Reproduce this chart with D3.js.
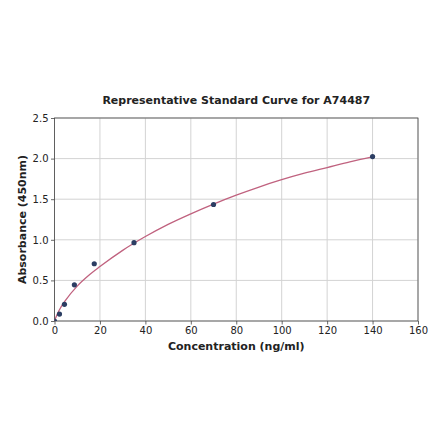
<!DOCTYPE html>
<html>
<head>
<meta charset="utf-8">
<script src="https://cdn.jsdelivr.net/npm/d3@7"></script>
<style>
  body { margin: 0; background: #fff; }
  text { font-family: "DejaVu Sans", sans-serif; fill: #222; }
</style>
</head>
<body>
<div id="chart"></div>
<script>
// standard points
var concentration = [0, 2.19, 4.38, 8.75, 17.5, 35, 70, 140];
var absorbance = [0.0, 0.085, 0.205, 0.445, 0.705, 0.965, 1.435, 2.025];

// fitted curve
var curveX = [0, 1, 2, 5, 10, 15, 20, 30, 40, 50, 60, 70, 80, 90, 100, 110, 120, 130, 140];
var curveY = [0, 0.07, 0.13, 0.26, 0.43, 0.56, 0.67, 0.87, 1.04, 1.19, 1.32, 1.44, 1.55, 1.65, 1.74, 1.82, 1.89, 1.96, 2.02];

var xTicks = [0, 20, 40, 60, 80, 100, 120, 140, 160];
var yTicks = [0, 0.5, 1.0, 1.5, 2.0, 2.5];

var width = 440, height = 441;
var margin = { top: 118, right: 22, bottom: 120, left: 54.5 };
var innerW = width - margin.left - margin.right;
var innerH = height - margin.top - margin.bottom;

var svg = d3.select('#chart').append('svg')
  .attr('width', width).attr('height', height);

var x = d3.scaleLinear().domain([0, 160]).range([0, innerW]);
var y = d3.scaleLinear().domain([0, 2.5]).range([innerH, 0]);

var g = svg.append('g').attr('transform', 'translate(' + margin.left + ',' + margin.top + ')');

g.append('clipPath').attr('id', 'clip')
  .append('rect').attr('width', innerW).attr('height', innerH);

// grid
g.append('g').selectAll('line').data(xTicks).enter().append('line')
  .attr('x1', function (d) { return x(d); }).attr('x2', function (d) { return x(d); })
  .attr('y1', 0).attr('y2', innerH)
  .attr('stroke', '#d3d3d3').attr('stroke-width', 1);
g.append('g').selectAll('line').data(yTicks).enter().append('line')
  .attr('y1', function (d) { return y(d); }).attr('y2', function (d) { return y(d); })
  .attr('x1', 0).attr('x2', innerW)
  .attr('stroke', '#d3d3d3').attr('stroke-width', 1);

// axes
var xAxis = g.append('g').attr('transform', 'translate(0,' + innerH + ')')
  .call(d3.axisBottom(x).tickValues(xTicks).tickSize(3.5).tickPadding(2.5).tickFormat(d3.format('d')));
var yAxis = g.append('g')
  .call(d3.axisLeft(y).tickValues(yTicks).tickSize(3.5).tickPadding(2.5).tickFormat(d3.format('.1f')));
[xAxis, yAxis].forEach(function (a) {
  a.select('.domain').remove();
  a.selectAll('line').attr('stroke', '#444').attr('stroke-width', 0.8);
  a.selectAll('text').style('font-size', '10px').style('font-family', '"DejaVu Sans", sans-serif').attr('fill', '#222');
});

// frame
g.append('rect').attr('width', innerW).attr('height', innerH)
  .attr('fill', 'none').attr('stroke', '#444').attr('stroke-width', 0.8);

// fitted curve
var line = d3.line()
  .x(function (d) { return x(d[0]); })
  .y(function (d) { return y(d[1]); })
  .curve(d3.curveMonotoneX);
g.append('path').datum(d3.zip(curveX, curveY))
  .attr('d', line).attr('fill', 'none')
  .attr('stroke', '#c0627f').attr('stroke-width', 1.3)
  .attr('clip-path', 'url(#clip)');

// points
g.append('g').attr('clip-path', 'url(#clip)')
  .selectAll('circle').data(d3.zip(concentration, absorbance)).enter().append('circle')
  .attr('cx', function (d) { return x(d[0]); })
  .attr('cy', function (d) { return y(d[1]); })
  .attr('r', 2.6).attr('fill', '#2c3e63');

// labels
svg.append('text').attr('x', margin.left + innerW / 2).attr('y', 104)
  .attr('text-anchor', 'middle').style('font-size', '11px').style('font-weight', 'bold')
  .text('Representative Standard Curve for A74487');
svg.append('text').attr('x', margin.left + innerW / 2).attr('y', 350)
  .attr('text-anchor', 'middle').style('font-size', '11px').style('font-weight', 'bold')
  .text('Concentration (ng/ml)');
svg.append('text').attr('transform', 'translate(26,' + (margin.top + innerH / 2) + ') rotate(-90)')
  .attr('text-anchor', 'middle').style('font-size', '11px').style('font-weight', 'bold')
  .text('Absorbance (450nm)');
</script>
</body>
</html>
